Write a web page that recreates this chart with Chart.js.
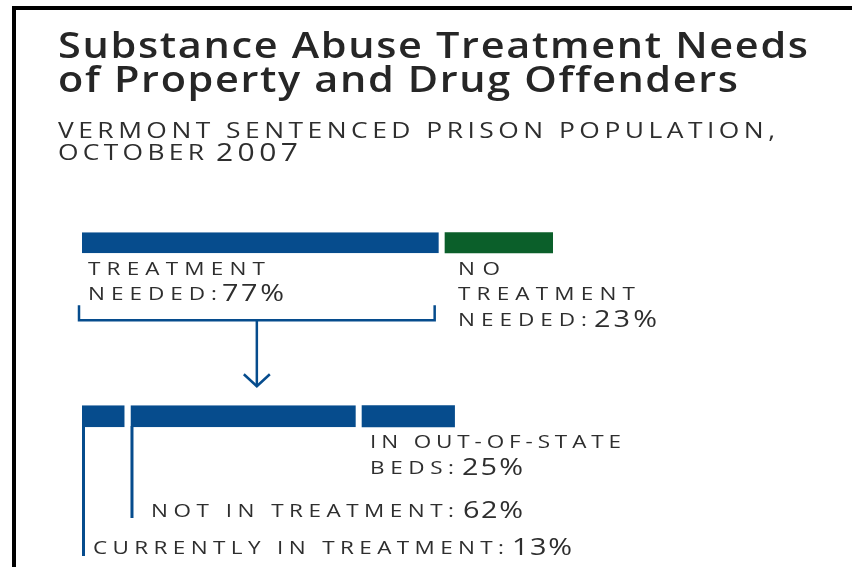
<!DOCTYPE html>
<html>
<head>
<meta charset="utf-8">
<script src="https://cdn.jsdelivr.net/npm/chart.js@4"></script>
<style>
  html, body { margin: 0; padding: 0; background: #ffffff; }
  #wrap { width: 852px; height: 567px; position: relative; }
</style>
</head>
<body>
<div id="wrap"><canvas id="c" width="852" height="567"></canvas></div>
<script>
// ---------------- data ----------------
const rows = ['Sentenced property and drug offenders', 'Treatment needed'];
const needLabels = [['TREATMENT', 'NEEDED:'], ['NO', 'TREATMENT', 'NEEDED:']];
const needValues = [77, 23];
const statusLabels = [['CURRENTLY IN TREATMENT:'], ['NOT IN TREATMENT:'], ['IN OUT-OF-STATE', 'BEDS:']];
const statusValues = [13, 62, 25];
const titleLines = ['Substance Abuse Treatment Needs', 'of Property and Drug Offenders'];
const subtitleLines = ['VERMONT SENTENCED PRISON POPULATION,', 'OCTOBER', '2007'];

// ---------------- styles ----------------
const BLUE = '#064c8d';
const GREEN = '#0b5f2a';
const TEXT = '#2e2e2e';
const TITLE = '#262626';
const FONT = '"Open Sans", "Noto Sans", sans-serif';

// text layout (annotation placement only)
const needText = [
  { x: 88, base: [275, 300], w: [177, 129], numW: 62, gap: 5 },
  { x: 458, base: [275, 300, 326], w: [42, 177, 129], numW: 63, gap: 7 }
];
const statusText = [
  { x: 93, base: [554], w: [411], numW: 60, gap: 8 },
  { x: 151, base: [517], w: [303], numW: 60, gap: 9 },
  { x: 370, base: [448, 474], w: [251, 84], numW: 61, gap: 8 }
];

// draws text with a horizontal stretch, spreading the remaining room between letters
function fitText(ctx, text, x, y, font, width, sx) {
  ctx.font = font;
  const chars = [...text];
  const ws = chars.map(c => ctx.measureText(c).width * sx);
  const natural = ws.reduce((a, b) => a + b, 0);
  const gap = chars.length > 1 ? (width - natural) / (chars.length - 1) : 0;
  let cx = x;
  chars.forEach((c, i) => {
    ctx.save();
    ctx.translate(cx, y);
    ctx.scale(sx, 1);
    ctx.fillText(c, 0, 0);
    ctx.restore();
    cx += ws[i] + gap;
  });
  return x + width;
}

const capsFont = '400 18px ' + FONT;
const numFont = '400 24px ' + FONT;
const CAPS_SX = 1.25, NUM_SX = 1.2;

const decor = {
  id: 'decor',
  beforeDraw(chart) {
    const ctx = chart.ctx;
    ctx.save();
    ctx.fillStyle = '#ffffff';
    ctx.fillRect(0, 0, chart.width, chart.height);
    // frame
    ctx.fillStyle = '#000000';
    ctx.fillRect(12, 6, chart.width - 12, 4);
    ctx.fillRect(12, 6, 4, chart.height - 6);
    ctx.restore();
  },
  afterDatasetsDraw(chart) {
    const ctx = chart.ctx;
    ctx.save();
    ctx.textBaseline = 'alphabetic';
    ctx.textAlign = 'left';
    // title
    ctx.fillStyle = TITLE;
    fitText(ctx, titleLines[0], 58, 58, '600 36px ' + FONT, 750, 1.15);
    fitText(ctx, titleLines[1], 58, 92, '600 36px ' + FONT, 680, 1.15);
    // subtitle
    ctx.fillStyle = TEXT;
    fitText(ctx, subtitleLines[0], 58, 138, '500 22px ' + FONT, 717, 1.2);
    fitText(ctx, subtitleLines[1], 58, 160, '500 22px ' + FONT, 146, 1.2);
    fitText(ctx, subtitleLines[2], 216, 161, '400 25px ' + FONT, 82, 1.2);

    // need labels
    needLabels.forEach((lines, i) => {
      const t = needText[i];
      let endX = t.x;
      lines.forEach((ln, j) => { endX = fitText(ctx, ln, t.x, t.base[j], capsFont, t.w[j], CAPS_SX); });
      fitText(ctx, needValues[i] + '%', endX + t.gap, t.base[lines.length - 1] + 1, numFont, t.numW, NUM_SX);
    });
    // status labels
    statusLabels.forEach((lines, i) => {
      const t = statusText[i];
      let endX = t.x;
      lines.forEach((ln, j) => { endX = fitText(ctx, ln, t.x, t.base[j], capsFont, t.w[j], CAPS_SX); });
      fitText(ctx, statusValues[i] + '%', endX + t.gap, t.base[lines.length - 1] + 1, numFont, t.numW, NUM_SX);
    });

    // bracket + arrow under the "treatment needed" bar
    const need0 = chart.getDatasetMeta(0).data[0];
    const bBottom = need0.y + need0.height / 2;
    const left = Math.min(need0.base, need0.x) - 3;
    const right = Math.max(need0.base, need0.x) - 10;
    const top = bBottom + 52, hy = bBottom + 67;
    ctx.strokeStyle = BLUE;
    ctx.lineWidth = 2.5;
    ctx.lineCap = 'butt';
    ctx.beginPath();
    ctx.moveTo(left, top); ctx.lineTo(left, hy); ctx.lineTo(right, hy); ctx.lineTo(right, top);
    ctx.stroke();
    const mid = (left + right) / 2;
    const tip = bBottom + 133;
    ctx.beginPath();
    ctx.moveTo(mid, hy); ctx.lineTo(mid, tip);
    ctx.stroke();
    ctx.beginPath();
    ctx.moveTo(mid - 13, tip - 12); ctx.lineTo(mid, tip); ctx.lineTo(mid + 13, tip - 12);
    ctx.stroke();

    // leader lines from status segments
    const ends = [556, 518];
    [0, 1].forEach(k => {
      const el = chart.getDatasetMeta(needValues.length + k).data[1];
      const x0 = Math.min(el.base, el.x);
      const yb = el.y + el.height / 2;
      ctx.fillStyle = BLUE;
      ctx.fillRect(x0, yb - 1, 3, ends[k] - yb + 1);
    });
    ctx.restore();
  }
};

const datasets = [];
needValues.forEach((v, i) => {
  datasets.push({
    label: needLabels[i].join(' '),
    data: [v, null],
    xAxisID: 'x',
    stack: 'need',
    backgroundColor: i === 0 ? BLUE : GREEN,
    borderColor: 'rgba(0,0,0,0)',
    borderWidth: i < needValues.length - 1 ? { right: 6, left: 0, top: 0, bottom: 0 } : 0,
    borderSkipped: 'start',
    maxBarThickness: 21,
    grouped: false
  });
});
statusValues.forEach((v, i) => {
  datasets.push({
    label: statusLabels[i].join(' '),
    data: [null, v],
    xAxisID: 'x2',
    stack: 'status',
    backgroundColor: BLUE,
    borderColor: 'rgba(0,0,0,0)',
    borderWidth: i < statusValues.length - 1 ? { right: 6, left: 0, top: 0, bottom: 0 } : 0,
    borderSkipped: 'start',
    maxBarThickness: 22,
    grouped: false
  });
});

new Chart(document.getElementById('c'), {
  type: 'bar',
  data: { labels: rows, datasets },
  plugins: [decor],
  options: {
    indexAxis: 'y',
    responsive: false,
    animation: false,
    layout: { padding: { left: 82, right: 299, top: 156, bottom: 64 } },
    plugins: { legend: { display: false }, title: { display: false }, tooltip: { enabled: false } },
    scales: {
      x: { type: 'linear', min: 0, max: 100, stacked: true, display: false },
      x2: { type: 'linear', min: 0, max: 126.3, stacked: true, display: false, position: 'bottom' },
      y: { type: 'category', stacked: true, display: false, offset: true }
    }
  }
});
</script>
</body>
</html>
